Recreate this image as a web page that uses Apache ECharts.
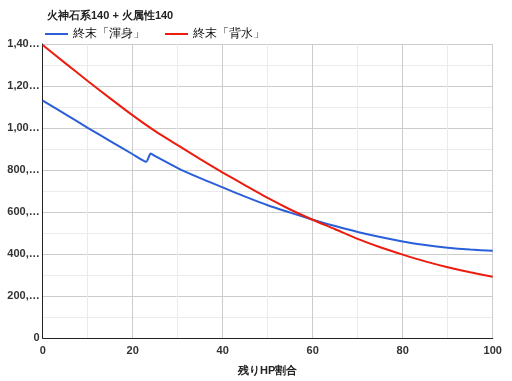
<!DOCTYPE html>
<html>
<head>
<meta charset="utf-8">
<script src="https://cdn.jsdelivr.net/npm/echarts@6/dist/echarts.min.js"></script>
<style>
html,body{margin:0;padding:0;background:#fff;}
#chart{width:512px;height:381px;}
</style>
</head>
<body>
<div id="chart"></div>
<script>
// ---- data ----
const titleText = '火神石系140 + 火属性140';
const seriesNames = ['終末「渾身」', '終末「背水」'];
const xName = '残りHP割合';
const yTickLabels = ['0', '200,…', '400,…', '600,…', '800,…', '1,00…', '1,20…', '1,40…'];

const hpBlue = [0, 5, 10, 15, 20, 23, 24, 25, 30, 35, 40, 45, 50, 55, 60, 65, 70, 75, 80, 85, 90, 95, 100];
const konshin = [1130000, 1066000, 1001000, 938000, 875000, 839000, 878000, 866000, 809000, 761000, 717000, 673000, 632000, 597000, 563000, 533000, 505000, 481000, 460000, 443000, 430000, 421000, 415000];

const hpRed = [0, 5, 10, 15, 20, 25, 30, 35, 40, 45, 50, 55, 60, 65, 70, 75, 80, 85, 90, 95, 100];
const haisui = [1395000, 1309000, 1224000, 1141000, 1060000, 985000, 918000, 852000, 788000, 727000, 667000, 612000, 563000, 518000, 472000, 432000, 397000, 365000, 337000, 313000, 292000];

const colors = ['#2a5fd8', '#ec1c0e'];
const FONT = '"Liberation Sans", Arial, sans-serif';

const chart = echarts.init(document.getElementById('chart'), null, {renderer: 'canvas'});
chart.setOption({
  animation: false,
  backgroundColor: '#ffffff',
  title: {
    text: titleText,
    left: 42,
    top: 5,
    textStyle: {fontFamily: FONT, fontSize: 11, fontWeight: 'bold', color: '#222'}
  },
  legend: {
    left: 40,
    top: 23,
    itemWidth: 23,
    itemHeight: 2,
    itemGap: 20,
    icon: 'rect',
    textStyle: {fontFamily: FONT, fontSize: 12, color: '#111', padding: [0, 0, 0, 0]},
    data: seriesNames
  },
  grid: {left: 42.7, right: 19.3, top: 44, bottom: 41, containLabel: false},
  xAxis: {
    type: 'value',
    min: 0, max: 100, interval: 20,
    name: xName,
    nameLocation: 'middle',
    nameGap: 27,
    nameTextStyle: {fontFamily: FONT, fontSize: 11, fontWeight: 'bold', color: '#222'},
    axisLine: {show: true, onZero: false, lineStyle: {color: '#222', width: 1}},
    axisTick: {show: false},
    axisLabel: {fontFamily: FONT, fontSize: 11, fontWeight: 'bold', color: '#333', margin: 7},
    splitLine: {show: true, lineStyle: {color: '#cccccc', width: 1}},
    minorTick: {show: false, splitNumber: 2},
    minorSplitLine: {show: true, lineStyle: {color: '#ebebeb', width: 1}}
  },
  yAxis: {
    type: 'value',
    min: 0, max: 1400000, interval: 200000,
    axisLine: {show: true, lineStyle: {color: '#222', width: 1}},
    axisTick: {show: false},
    axisLabel: {
      fontFamily: FONT, fontSize: 11, fontWeight: 'bold', color: '#333', margin: 3,
      formatter: function (v) { return yTickLabels[Math.round(v / 200000)]; }
    },
    splitLine: {show: true, lineStyle: {color: '#cccccc', width: 1}},
    minorTick: {show: false, splitNumber: 2},
    minorSplitLine: {show: true, lineStyle: {color: '#ebebeb', width: 1}}
  },
  series: [
    {
      name: seriesNames[0], type: 'line', showSymbol: false, symbol: 'none',
      smooth: 0.2,
      lineStyle: {width: 2, color: colors[0]}, itemStyle: {color: colors[0]},
      data: hpBlue.map((x, i) => [x, konshin[i]])
    },
    {
      name: seriesNames[1], type: 'line', showSymbol: false, symbol: 'none',
      smooth: 0.2,
      lineStyle: {width: 2, color: colors[1]}, itemStyle: {color: colors[1]},
      data: hpRed.map((x, i) => [x, haisui[i]])
    }
  ]
});
</script>
</body>
</html>
